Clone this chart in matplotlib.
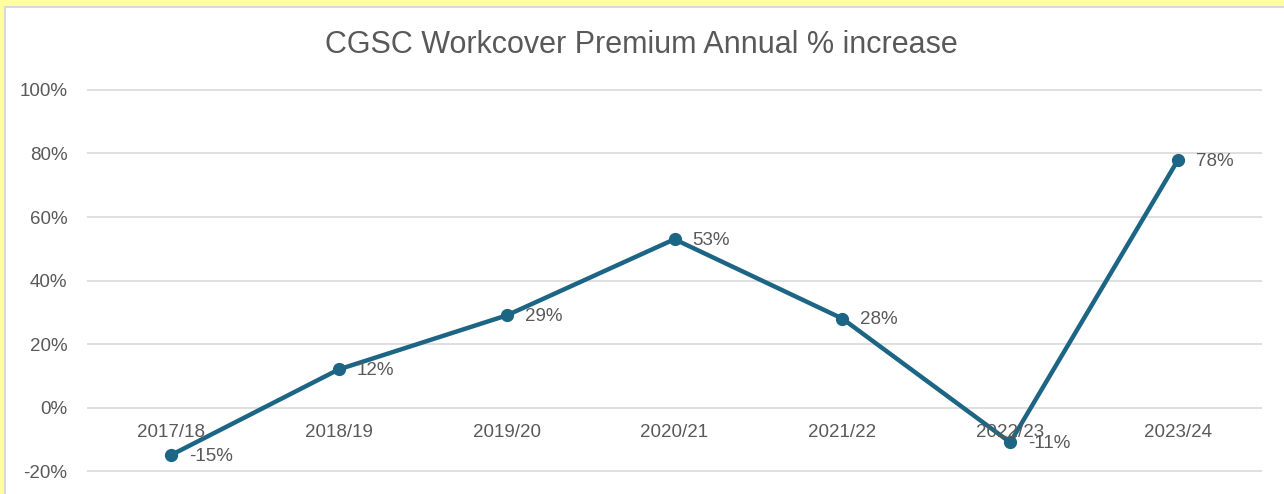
import matplotlib.pyplot as plt
from matplotlib.patches import Rectangle
from matplotlib.ticker import PercentFormatter

# chart data
years = ["2017/18", "2018/19", "2019/20", "2020/21", "2021/22", "2022/23", "2023/24"]
increase = [-0.15, 0.12, 0.29, 0.53, 0.28, -0.11, 0.78]
y_ticks = [-0.2, 0.0, 0.2, 0.4, 0.6, 0.8, 1.0]

line_color = "#1c6584"
text_color = "#595959"
grid_color = "#d9d9d9"

plt.rcParams['font.family'] = ['Liberation Sans', 'DejaVu Sans']
plt.rcParams['axes.unicode_minus'] = False

W, H = 1284, 494
fig = plt.figure(figsize=(W / 100, H / 100), dpi=100)
fig.patch.set_facecolor("white")

# yellow frame on the left and top, thin grey line inside it
fig.patches.append(Rectangle((0, 0), 4 / W, 1, transform=fig.transFigure,
                             facecolor="#ffff9e", edgecolor="none"))
fig.patches.append(Rectangle((0, 1 - 6 / H), 1, 6 / H, transform=fig.transFigure,
                             facecolor="#ffff9e", edgecolor="none"))
fig.patches.append(Rectangle((4 / W, 0), 2 / W, 1 - 6 / H, transform=fig.transFigure,
                             facecolor=grid_color, edgecolor="none"))
fig.patches.append(Rectangle((4 / W, 1 - 8 / H), 1, 2 / H, transform=fig.transFigure,
                             facecolor=grid_color, edgecolor="none"))

# axes placed so -20% sits at y=471 px and 100% at y=90 px
px_per_unit = (471 - 90) / 1.2
ymin, ymax = -0.22, 1.02
bottom_px = 471 + 0.02 * px_per_unit
top_px = 90 - 0.02 * px_per_unit
left, right = 87, 1262
ax = fig.add_axes([left / W, (H - bottom_px) / H, (right - left) / W, (bottom_px - top_px) / H])
ax.set_xlim(-0.5, len(years) - 0.5)
ax.set_ylim(ymin, ymax)

for s in ax.spines.values():
    s.set_visible(False)
ax.set_yticks(y_ticks)
ax.yaxis.set_major_formatter(PercentFormatter(1.0, decimals=0))
ax.tick_params(axis="y", length=0, pad=14, labelsize=13.5, labelcolor=text_color)
ax.set_xticks([])
ax.grid(axis="y", color=grid_color, linewidth=1.2)
ax.set_axisbelow(True)

x = list(range(len(years)))
ax.plot(x, increase, color=line_color, linewidth=3.2, marker="o", markersize=8.5,
        solid_capstyle="round", zorder=3)

# category labels sit just under the 0% line (2022/23 overlaps its data label, as in the original)
for i, lab in enumerate(years):
    ax.annotate(lab, (i, 0), xytext=(0, -18), textcoords="offset points",
                ha="center", va="center", fontsize=13.5, color=text_color, zorder=4)

# data labels to the right of each point
for i, v in enumerate(increase):
    ax.annotate(f"{v * 100:.0f}%", (i, v), xytext=(13, -1), textcoords="offset points",
                ha="left", va="center", fontsize=13.5, color=text_color, zorder=4)

fig.text(641 / W, 1 - 45 / H, "CGSC Workcover Premium Annual % increase",
         ha="center", va="center", fontsize=22, color=text_color)

fig.savefig("out.png", dpi=100)
